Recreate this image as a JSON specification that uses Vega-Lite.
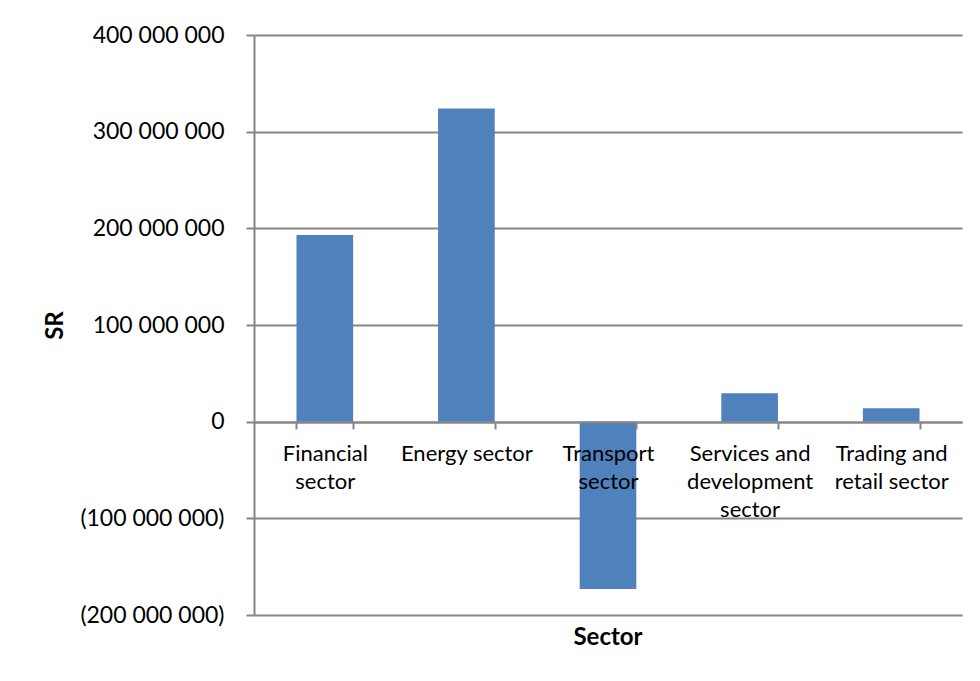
{
  "$schema": "https://vega.github.io/schema/vega-lite/v6.json",
  "width": 708,
  "height": 580,
  "autosize": {"type": "none"},
  "padding": {"left": 254, "top": 35, "right": 18, "bottom": 66},
  "background": "white",
  "title": {"text": "Sector", "orient": "bottom", "anchor": "middle", "font": "Lato", "fontSize": 24, "fontWeight": "bold", "color": "black", "offset": -1},
  "data": {
    "values": [
      {"sector": "Financial sector", "SR": 193000000},
      {"sector": "Energy sector", "SR": 324000000},
      {"sector": "Transport sector", "SR": -173000000},
      {"sector": "Services and development sector", "SR": 29500000},
      {"sector": "Trading and retail sector", "SR": 14000000}
    ]
  },
  "mark": {"type": "bar", "color": "#4F81BD"},
  "encoding": {
    "x": {
      "field": "sector",
      "type": "nominal",
      "sort": null,
      "scale": {"paddingInner": 0.6, "paddingOuter": 0.3},
      "axis": {
        "title": null,
        "orient": "bottom",
        "offset": -193,
        "zindex": 1,
        "labelAngle": 0,
        "labelFont": "Lato",
        "labelFontSize": 22,
        "labelColor": "black",
        "labelBaseline": "alphabetic",
        "labelPadding": 31,
        "labelLineHeight": 28,
        "labelExpr": "datum.value == 'Financial sector' ? ['Financial','sector'] : datum.value == 'Transport sector' ? ['Transport','sector'] : datum.value == 'Services and development sector' ? ['Services and','development','sector'] : datum.value == 'Trading and retail sector' ? ['Trading and','retail sector'] : datum.label",
        "tickBand": "extent",
        "tickSize": 7,
        "tickColor": "#868686",
        "tickWidth": 2,
        "domainColor": "#868686",
        "domainWidth": 2,
        "grid": false
      }
    },
    "y": {
      "field": "SR",
      "type": "quantitative",
      "scale": {"domain": [-200000000, 400000000], "nice": false, "zero": false},
      "axis": {
        "title": "SR",
        "titleFont": "Lato",
        "titleFontSize": 24,
        "titleFontWeight": "bold",
        "titleColor": "black",
        "titlePadding": 12,
        "values": [-200000000, -100000000, 0, 100000000, 200000000, 300000000, 400000000],
        "labelExpr": "replace(format(datum.value, '(,d'), /,/g, ' ')",
        "labelFont": "Lato",
        "labelFontSize": 23,
        "labelColor": "black",
        "labelPadding": 22,
        "tickSize": 8,
        "tickColor": "#868686",
        "tickWidth": 2,
        "domainColor": "#868686",
        "domainWidth": 2,
        "grid": true,
        "gridColor": "#868686",
        "gridWidth": 2
      }
    }
  },
  "config": {
    "view": {"stroke": null}
  }
}
